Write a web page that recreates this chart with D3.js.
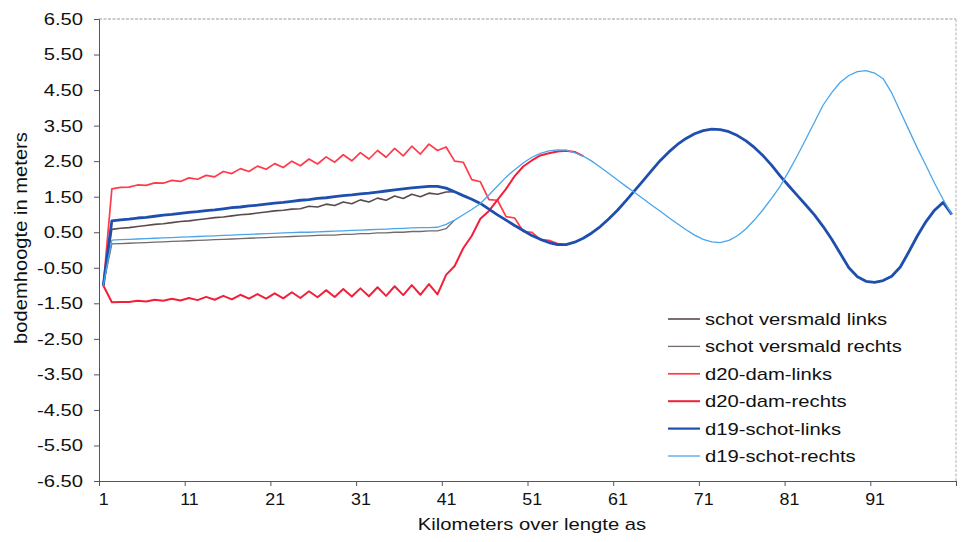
<!DOCTYPE html>
<html><head><meta charset="utf-8">
<script src="https://cdn.jsdelivr.net/npm/d3@7/dist/d3.min.js"></script>
<style>
html,body{margin:0;padding:0;background:#fff;}
svg text{font-family:"Liberation Sans",Arial,sans-serif;fill:#111;}
</style></head>
<body><svg id="c" width="963" height="542"></svg>
<script>
// x categories: kilometre 1..100
const kmCount = 100;
const xTickLabels = [1, 11, 21, 31, 41, 51, 61, 71, 81, 91];
const yTickValues = [-6.5, -5.5, -4.5, -3.5, -2.5, -1.5, -0.5, 0.5, 1.5, 2.5, 3.5, 4.5, 5.5, 6.5];
const seriesNames = ["schot versmald links", "schot versmald rechts", "d20-dam-links", "d20-dam-rechts", "d19-schot-links", "d19-schot-rechts"];

// values per km, starting at km 1
const schotVersmaldLinks = [-1.0,
  0.58,0.61,0.63,0.66,0.69,0.72,0.74,0.77,0.80,0.82,0.85,0.88,0.91,0.93,0.96,0.99,1.01,1.04,1.07,1.10,1.12,1.15,
  1.16,1.23,1.21,1.29,1.25,1.35,1.30,1.41,1.35,1.46,1.40,1.52,1.45,1.57,1.50,1.60,1.57,1.63,1.64];
const schotVersmaldRechts = [-1.0,
  0.17,0.18,0.19,0.20,0.21,0.22,0.23,0.24,0.25,0.26,0.27,0.28,0.29,0.30,0.31,0.32,0.33,0.34,0.35,0.36,0.37,0.38,0.39,0.40,
  0.41,0.42,0.42,0.44,0.44,0.46,0.46,0.48,0.48,0.50,0.50,0.52,0.52,0.54,0.54,0.60,0.84];
const d20DamLinks = [-1.0,
  1.72,1.76,1.77,1.83,1.82,1.89,1.88,1.96,1.93,2.03,1.99,2.10,2.06,2.21,2.15,2.29,2.21,2.36,2.27,2.43,2.32,2.50,2.37,2.56,2.42,2.62,2.47,2.68,2.51,2.74,2.56,2.80,2.61,2.86,2.65,2.92,2.70,2.98,2.80,2.90,
  2.50,2.47,1.98,1.92,1.42,1.40,0.94,0.90,0.52,0.50,0.29,0.27,0.18,0.15];
const d20DamRechts = [-1.0,
  -1.47,-1.46,-1.46,-1.43,-1.45,-1.40,-1.43,-1.37,-1.42,-1.35,-1.41,-1.32,-1.40,-1.29,-1.39,-1.26,-1.37,-1.24,-1.37,-1.22,-1.36,-1.19,-1.35,-1.16,-1.33,-1.13,-1.32,-1.10,-1.31,-1.08,-1.30,-1.05,-1.29,-1.02,-1.27,-0.99,-1.26,-0.96,-1.25,
  -0.70,-0.45,0.05,0.40,0.88,1.10,1.41,1.72,2.08,2.35,2.52,2.66,2.72,2.77,2.79,2.76,2.64];
const d19SchotLinks = [-1.0,
  0.82,0.85,0.87,0.90,0.92,0.95,0.98,1.00,1.03,1.06,1.08,1.11,1.13,1.16,1.19,1.21,1.24,1.26,1.29,1.32,1.34,1.37,1.40,1.42,1.45,1.47,1.50,1.53,1.55,1.58,1.60,1.63,1.66,1.69,1.72,1.75,1.77,1.79,1.79,
  1.74,1.64,1.53,1.43,1.31,1.15,0.99,0.84,0.69,0.55,0.41,0.30,0.21,0.15,
  0.15,0.22,0.33,0.48,0.66,0.88,1.12,1.39,1.67,1.95,2.24,2.52,2.76,2.97,3.14,3.27,3.36,3.40,3.39,
  3.33,3.22,3.07,2.88,2.65,2.38,2.08,1.80,1.53,1.26,0.98,0.66,0.30,-0.10,-0.50,-0.75,-0.88,-0.91,-0.86,-0.74,-0.48,-0.05,0.40,0.80,1.12,1.34,1.00];
const d19SchotRechts = [-1.0,
  0.28,0.29,0.30,0.31,0.32,0.33,0.34,0.35,0.36,0.37,0.38,0.39,0.40,0.41,0.42,0.43,0.44,0.45,0.46,0.47,0.48,0.49,0.50,0.50,0.51,0.52,0.53,0.54,0.55,0.56,0.57,0.58,0.59,0.60,0.61,0.62,0.63,0.63,0.64,
  0.72,0.84,0.99,1.14,1.31,1.55,1.80,2.05,2.26,2.45,2.61,2.72,2.79,2.82,2.81,2.74,
  2.64,2.50,2.33,2.15,1.97,1.79,1.62,1.44,1.26,1.09,0.91,0.74,0.57,0.42,0.30,0.23,0.21,0.27,
  0.40,0.60,0.85,1.14,1.46,1.80,2.22,2.66,3.13,3.60,4.08,4.43,4.72,4.91,5.02,5.05,4.98,4.82,4.42,3.90,3.38,2.86,2.38,1.88,1.42,1.00];

const seriesColors = ["#5a4a4c", "#736a6a", "#ff3a4a", "#f2203a", "#1f4fae", "#4aa6ea"];
const seriesWidths = [1.6, 1.3, 1.7, 2.0, 2.8, 1.3];
const allSeries = [schotVersmaldLinks, schotVersmaldRechts, d20DamLinks, d20DamRechts, d19SchotLinks, d19SchotRechts];

const FONT = '"Liberation Sans",Arial,sans-serif';
const STRETCH = 1.19;
function stretch(sel, k) {
  sel.each(function () {
    const L = this.getComputedTextLength();
    d3.select(this).attr("textLength", L * k).attr("lengthAdjust", "spacingAndGlyphs");
  });
}
const fmt2 = d3.formatLocale({decimal: ".", thousands: ",", grouping: [3], currency: ["", ""], minus: "-"}).format(".2f");

const svg = d3.select("#c");
svg.append("rect").attr("width", 963).attr("height", 542).attr("fill", "#fff");

const x = d3.scaleLinear().domain([0.5, kmCount + 0.5]).range([99, 956]);
const y = d3.scaleLinear().domain([-6.5, 6.5]).range([481, 19]);

// plot border (top & right, dotted)
svg.append("line").attr("x1", x(0.5)).attr("x2", x(kmCount + 0.5)).attr("y1", y(6.5)).attr("y2", y(6.5))
  .attr("stroke", "#9a9a9a").attr("stroke-dasharray", "3,1.5");
svg.append("line").attr("x1", x(kmCount + 0.5)).attr("x2", x(kmCount + 0.5)).attr("y1", y(6.5)).attr("y2", y(-6.5))
  .attr("stroke", "#b0b0b0").attr("stroke-dasharray", "3,1.5");

// y axis
const yAxis = svg.append("g").attr("transform", `translate(${x(0.5)},0)`)
  .call(d3.axisLeft(y).tickValues(yTickValues).tickFormat(fmt2).tickSize(5).tickPadding(11));
yAxis.selectAll("path,line").attr("stroke", "#555");
yAxis.selectAll("text").attr("font-size", 17).style("font-family", FONT).attr("fill", "#111");
stretch(yAxis.selectAll("text"), STRETCH);

// x axis: tick marks at category boundaries, labels at category centres
const xAxisTicks = svg.append("g").attr("transform", `translate(0,${y(-6.5)})`)
  .call(d3.axisBottom(x).tickValues(d3.range(0.5, kmCount + 0.6, 10)).tickFormat("").tickSize(5).tickSizeOuter(0));
xAxisTicks.selectAll("path,line").attr("stroke", "#555");
const xAxisLabels = svg.append("g").attr("transform", `translate(0,${y(-6.5)})`)
  .call(d3.axisBottom(x).tickValues(xTickLabels).tickFormat(d3.format("d")).tickSize(0).tickPadding(12));
xAxisLabels.select("path").remove();
xAxisLabels.selectAll("text").attr("font-size", 17).style("font-family", FONT).attr("fill", "#111");
stretch(xAxisLabels.selectAll("text"), 1.05);

// axis titles
const xt = svg.append("text").attr("x", 532).attr("y", 530).attr("text-anchor", "middle")
  .attr("font-size", 17).text("Kilometers over lengte as");
stretch(xt, STRETCH);
const yt = svg.append("text").attr("transform", "translate(27,238) rotate(-90)").attr("text-anchor", "middle")
  .attr("font-size", 18).text("bodemhoogte in meters");
stretch(yt, 1.12);

// lines
const line = d3.line().x((d, i) => x(i + 1)).y(d => y(d));
allSeries.forEach((s, k) => {
  svg.append("path").datum(s).attr("d", line).attr("fill", "none")
    .attr("stroke", seriesColors[k]).attr("stroke-width", seriesWidths[k]).attr("stroke-linejoin", "round");
});

// legend
const lg = svg.append("g").attr("transform", "translate(668,319)");
seriesNames.forEach((n, k) => {
  const g = lg.append("g").attr("transform", `translate(0,${k * 27.4})`);
  g.append("line").attr("x1", 0).attr("x2", 32).attr("y1", 0).attr("y2", 0)
    .attr("stroke", seriesColors[k]).attr("stroke-width", Math.min(seriesWidths[k], 2.2));
  const t = g.append("text").attr("x", 37).attr("y", 0).attr("dy", "0.35em").attr("font-size", 17).text(n);
  stretch(t, STRETCH);
});
</script></body></html>
